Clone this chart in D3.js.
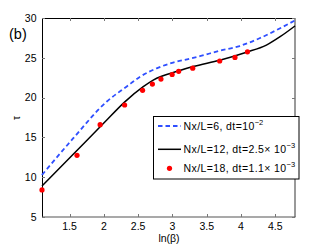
<!DOCTYPE html>
<html><head><meta charset="utf-8">
<script src="https://cdn.jsdelivr.net/npm/d3@7"></script>
<style>body{margin:0;background:#fff;}svg{display:block;font-family:"Liberation Sans",Arial,sans-serif;}</style>
</head><body>
<script>
const xTicks = [1.5, 2, 2.5, 3, 3.5, 4, 4.5];
const yTicks = [5, 10, 15, 20, 25, 30];
const xDomain = [1.0986, 4.787];
const yDomain = [5, 30];

// Nx/L=6, dt=1e-2 (dashed blue)
const dashX = [1.0986, 1.555, 2.04, 2.33, 2.53, 2.77, 3.01, 3.26, 3.40, 3.69, 3.98, 4.27, 4.57, 4.787];
const dashY = [10.28, 14.9, 19.48, 21.37, 22.63, 23.68, 24.4, 24.9, 25.2, 25.89, 26.48, 27.45, 28.71, 29.7];

// Nx/L=12, dt=2.5e-3 (solid black)
const solidX = [1.0986, 1.5, 2.0, 2.31, 2.575, 2.72, 3.085, 3.30, 3.69, 4.08, 4.37, 4.57, 4.787];
const solidY = [8.9, 12.4, 16.8, 19.5, 21.37, 22.2, 23.34, 23.9, 24.7, 25.7, 26.6, 27.65, 29.0];

// Nx/L=18, dt=1.1e-3 (red dots)
const dotX = [1.0986, 1.609, 1.946, 2.303, 2.565, 2.708, 2.833, 2.996, 3.091, 3.296, 3.689, 3.912, 4.094];
const dotY = [8.4, 12.75, 16.6, 19.07, 20.92, 21.7, 22.33, 22.9, 23.3, 23.7, 24.6, 25.05, 25.75];

const legendMain = ["Nx/L=6, dt=10", "Nx/L=12, dt=2.5\u00d7 10", "Nx/L=18, dt=1.1\u00d7 10"];
const legendSup = ["\u22122", "\u22123", "\u22123"];

const W = 327, H = 246;
const L = 42, T = 18, R = 295, B = 217;
const svg = d3.select("body").append("svg").attr("width", W).attr("height", H);
svg.append("rect").attr("width", W).attr("height", H).attr("fill", "#fff");

const x = d3.scaleLinear().domain(xDomain).range([L, R]);
const y = d3.scaleLinear().domain(yDomain).range([B, T]);

// frame
svg.append("line").attr("x1", L + 0.5).attr("x2", L + 0.5).attr("y1", T).attr("y2", B).attr("stroke", "#000");
svg.append("line").attr("x1", L).attr("x2", R).attr("y1", T + 0.5).attr("y2", T + 0.5).attr("stroke", "#000");
svg.append("line").attr("x1", L).attr("x2", R + 0.5).attr("y1", B).attr("y2", B).attr("stroke", "#555").attr("stroke-width", 1.2);
svg.append("line").attr("x1", R).attr("x2", R).attr("y1", T).attr("y2", B).attr("stroke", "#555").attr("stroke-width", 1.2);

// ticks (inward, mirrored)
const tk = 3;
xTicks.forEach(v => {
  const px = Math.round(x(v)) + 0.5;
  svg.append("line").attr("x1", px).attr("x2", px).attr("y1", B).attr("y2", B - tk).attr("stroke", "#777");
  svg.append("line").attr("x1", px).attr("x2", px).attr("y1", T).attr("y2", T + tk).attr("stroke", "#777");
  svg.append("text").attr("x", x(v)).attr("y", 230).attr("text-anchor", "middle").attr("font-size", 10.5).attr("fill", "#000").text(v);
});
yTicks.forEach(v => {
  const py = Math.round(y(v)) + 0.5;
  svg.append("line").attr("x1", L).attr("x2", L + tk).attr("y1", py).attr("y2", py).attr("stroke", "#777");
  svg.append("line").attr("x1", R).attr("x2", R - tk).attr("y1", py).attr("y2", py).attr("stroke", "#777");
  svg.append("text").attr("x", 36.5).attr("y", y(v) + 3.7).attr("text-anchor", "end").attr("font-size", 10.5).attr("fill", "#000").text(v);
});

// labels
svg.append("text").attr("x", 169).attr("y", 242).attr("text-anchor", "middle").attr("font-size", 10.5).text("ln(\u03b2)");
svg.append("text").attr("transform", "translate(20,118) rotate(-90)").attr("text-anchor", "middle").attr("font-size", 10).text("\u03c4");
svg.append("text").attr("x", 9).attr("y", 38.5).attr("font-size", 14.5).text("(b)");

const g = svg.append("g");
const line = d3.line().x(d => x(d[0])).y(d => y(d[1])).curve(d3.curveMonotoneX);

g.append("path").datum(dashX.map((v, i) => [v, dashY[i]])).attr("d", line)
  .attr("fill", "none").attr("stroke", "#2f4fff").attr("stroke-width", 1.8).attr("stroke-dasharray", "4.5,3");
g.append("path").datum(solidX.map((v, i) => [v, solidY[i]])).attr("d", line)
  .attr("fill", "none").attr("stroke", "#000").attr("stroke-width", 1.5);
g.selectAll("circle").data(dotX.map((v, i) => [v, dotY[i]])).join("circle")
  .attr("cx", d => x(d[0])).attr("cy", d => y(d[1])).attr("r", 2.6).attr("fill", "#ff0000");

// legend
const lg = svg.append("g");
lg.append("rect").attr("x", 153.5).attr("y", 116.5).attr("width", 145.5).attr("height", 62.5)
  .attr("fill", "#fff").attr("stroke", "#000").attr("stroke-width", 1);
const rows = [126, 149.3, 168.3];
lg.append("line").attr("x1", 158).attr("x2", 181).attr("y1", rows[0]).attr("y2", rows[0])
  .attr("stroke", "#2f4fff").attr("stroke-width", 1.8).attr("stroke-dasharray", "4.5,3");
lg.append("line").attr("x1", 158).attr("x2", 181).attr("y1", rows[1]).attr("y2", rows[1])
  .attr("stroke", "#000").attr("stroke-width", 1.5);
lg.append("circle").attr("cx", 169.5).attr("cy", rows[2]).attr("r", 2.6).attr("fill", "#ff0000");
legendMain.forEach((t, i) => {
  const tx = lg.append("text").attr("x", 183.5).attr("y", rows[i] + 3.8).attr("font-size", 10.5).attr("letter-spacing", 0.4);
  tx.append("tspan").text(t);
  tx.append("tspan").attr("dy", -5).attr("font-size", 7.5).attr("letter-spacing", 0).text(legendSup[i]);
});
</script>
</body></html>
